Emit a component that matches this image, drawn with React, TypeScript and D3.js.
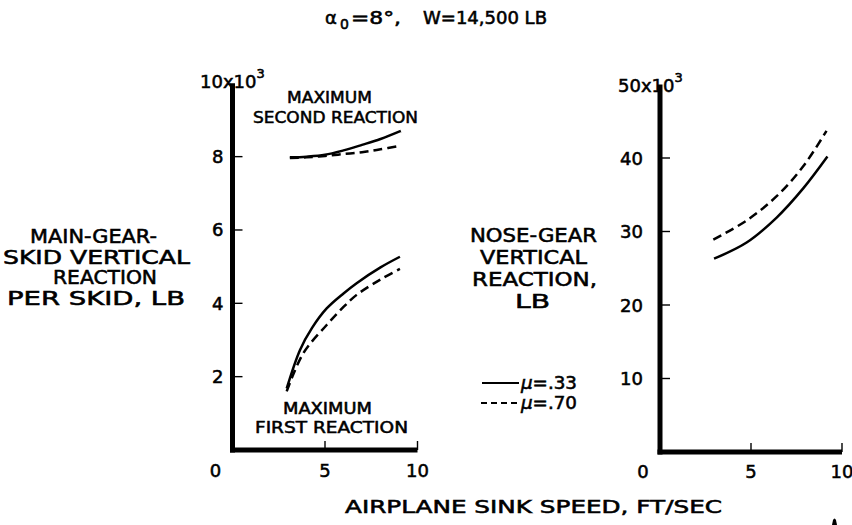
import React from "react";
import * as d3 from "d3";

// ---- data ----
const secondSolidX = [3.1, 4, 5, 6, 7, 8, 9.1];
const secondSolidY = [7.98, 8.0, 8.05, 8.17, 8.32, 8.48, 8.7];
const secondDashX = [3.1, 4, 5, 6, 7, 8, 9.0];
const secondDashY = [7.96, 7.98, 8.02, 8.07, 8.12, 8.2, 8.29];

const firstSolidX = [2.93, 3.65, 4.3, 5.09, 6.0, 6.71, 8.0, 9.05];
const firstSolidY = [1.68, 2.73, 3.33, 3.86, 4.27, 4.55, 4.98, 5.27];
const firstDashX = [2.93, 3.83, 5.09, 6.0, 6.71, 8.0, 9.05];
const firstDashY = [1.6, 2.64, 3.41, 3.9, 4.23, 4.65, 4.94];

const noseSolidX = [2.97, 4.76, 6.41, 7.88, 9.2];
const noseSolidY = [26.3, 28.5, 31.9, 35.9, 40.2];
const noseDashX = [2.93, 4.76, 6.41, 7.88, 9.15];
const noseDashY = [28.9, 31.5, 34.8, 38.9, 43.7];

const xTicks = [0, 5, 10];
const leftYTicks = [2, 4, 6, 8];
const rightYTicks = [10, 20, 30, 40];

const leftYLabel = ["MAIN-GEAR-", "SKID VERTICAL", "REACTION", "PER SKID, LB"];
const rightYLabel = ["NOSE-GEAR", "VERTICAL", "REACTION,", "LB"];
const legendLabels = [".33", ".70"];

const FONT = "'DejaVu Sans', sans-serif";

// layout (positions / widths of label lines)
const leftLabelX = [30, 3, 53, 7];
const leftLabelW = [127, 187, 104, 178];
const rightLabelX = [470, 480, 472, 515];
const rightLabelW = [127, 107, 125, 35];

export default function App() {
  const xL = d3.scaleLinear().domain([0, 10]).range([232.5, 417.5]);
  const yL = d3.scaleLinear().domain([0, 10]).range([450, 83.3]);
  const xR = d3.scaleLinear().domain([0, 10]).range([660, 842]);
  const yR = d3.scaleLinear().domain([0, 50]).range([452, 84.5]);

  const mk = (xs: d3.ScaleLinear<number, number>, ys: d3.ScaleLinear<number, number>, X: number[], Y: number[]) =>
    d3
      .line<number>()
      .x((_, i) => xs(X[i]))
      .y((_, i) => ys(Y[i]))
      .curve(d3.curveCatmullRom.alpha(0.5))(X) as string;

  const dash = "9,5";
  const lw = 2.5;
  const axisW = 5;
  const ts = { fill: "#000", stroke: "#000", strokeWidth: 0.55 } as const;

  return (
    <svg
      width={852}
      height={525}
      style={{ position: "absolute", left: 0, top: 0, background: "#fff" }}
      fontFamily={FONT}
    >
      <rect x={0} y={0} width={852} height={525} fill="#fff" />
      {/* Title */}
      <text x={325} y={24} fontSize={18} {...ts}>α</text>
      <text x={340} y={29} fontSize={14} {...ts}>0</text>
      <text x={351} y={24} fontSize={17} {...ts} textLength={50} lengthAdjust="spacingAndGlyphs">=8°,</text>
      <text x={423} y={24} fontSize={17} {...ts} textLength={124} lengthAdjust="spacingAndGlyphs">W=14,500 LB</text>

      {/* ---- Left chart ---- */}
      <line x1={xL(0)} x2={xL(0)} y1={yL(10)} y2={yL(0) + axisW / 2} stroke="#000" strokeWidth={axisW} />
      <line x1={xL(0) - axisW / 2} x2={xL(10)} y1={yL(0)} y2={yL(0)} stroke="#000" strokeWidth={axisW} />
      {leftYTicks.map((t) => (
        <g key={"ly" + t}>
          <line x1={xL(0)} x2={xL(0) + 10} y1={yL(t)} y2={yL(t)} stroke="#000" strokeWidth={1.4} />
          <text x={xL(0) - 9} y={yL(t) + 6.5} fontSize={18} textAnchor="end" {...ts}>
            {t}
          </text>
        </g>
      ))}
      {xTicks.map((t) => (
        <g key={"lx" + t}>
          {t > 0 && (
            <line x1={xL(t)} x2={xL(t)} y1={yL(0)} y2={yL(0) - 9} stroke="#000" strokeWidth={1.4} />
          )}
          <text x={xL(t) - (t === 0 ? 17 : 0)} y={477} fontSize={18} textAnchor="middle" {...ts}>
            {t}
          </text>
        </g>
      ))}
      <text x={200} y={88} fontSize={18} {...ts}>
        10x10<tspan fontSize={13} dy={-10}>3</tspan>
      </text>
      {leftYLabel.map((s, i) => (
        <text key={s} x={leftLabelX[i]} y={243 + i * 20.5} fontSize={19} textLength={leftLabelW[i]} lengthAdjust="spacingAndGlyphs" {...ts}>
          {s}
        </text>
      ))}
      <text x={287} y={103} fontSize={16.5} textLength={85} lengthAdjust="spacingAndGlyphs" {...ts}>MAXIMUM</text>
      <text x={253} y={123} fontSize={16.5} textLength={165} lengthAdjust="spacingAndGlyphs" {...ts}>SECOND REACTION</text>
      <text x={283} y={414} fontSize={16} textLength={89} lengthAdjust="spacingAndGlyphs" {...ts}>MAXIMUM</text>
      <text x={255} y={433} fontSize={16} textLength={153} lengthAdjust="spacingAndGlyphs" {...ts}>FIRST REACTION</text>

      <path d={mk(xL, yL, secondSolidX, secondSolidY)} fill="none" stroke="#000" strokeWidth={lw} />
      <path d={mk(xL, yL, secondDashX, secondDashY)} fill="none" stroke="#000" strokeWidth={lw} strokeDasharray={dash} />
      <path d={mk(xL, yL, firstSolidX, firstSolidY)} fill="none" stroke="#000" strokeWidth={lw} />
      <path d={mk(xL, yL, firstDashX, firstDashY)} fill="none" stroke="#000" strokeWidth={lw} strokeDasharray={dash} />

      {/* Legend */}
      <line x1={482} x2={519} y1={383} y2={383} stroke="#000" strokeWidth={1.8} />
      <line x1={481} x2={519} y1={403} y2={403} stroke="#000" strokeWidth={1.8} strokeDasharray="6,4" />
      {legendLabels.map((s, i) => (
        <text key={s} x={521} y={389 + i * 20} fontSize={17} textLength={56} lengthAdjust="spacingAndGlyphs" {...ts}>
          <tspan fontStyle="italic">μ</tspan>
          {"=" + s}
        </text>
      ))}

      {/* ---- Right chart ---- */}
      <line x1={xR(0)} x2={xR(0)} y1={yR(50)} y2={yR(0) + axisW / 2} stroke="#000" strokeWidth={axisW} />
      <line x1={xR(0) - axisW / 2} x2={xR(10)} y1={yR(0)} y2={yR(0)} stroke="#000" strokeWidth={axisW} />
      {rightYTicks.map((t) => (
        <g key={"ry" + t}>
          <line x1={xR(0)} x2={xR(0) + 10} y1={yR(t)} y2={yR(t)} stroke="#000" strokeWidth={1.4} />
          <text x={xR(0) - 17} y={yR(t) + 6.5} fontSize={18} textAnchor="end" {...ts}>
            {t}
          </text>
        </g>
      ))}
      {xTicks.map((t) => (
        <g key={"rx" + t}>
          {t > 0 && (
            <line x1={xR(t)} x2={xR(t)} y1={yR(0)} y2={yR(0) - 9} stroke="#000" strokeWidth={1.4} />
          )}
          <text x={xR(t) - (t === 0 ? 17 : 0)} y={478} fontSize={18} textAnchor="middle" {...ts}>
            {t}
          </text>
        </g>
      ))}
      <text x={618} y={92} fontSize={18} {...ts}>
        50x10<tspan fontSize={13} dy={-10}>3</tspan>
      </text>
      {rightYLabel.map((s, i) => (
        <text key={s} x={rightLabelX[i]} y={242 + i * 22} fontSize={19} textLength={rightLabelW[i]} lengthAdjust="spacingAndGlyphs" {...ts}>
          {s}
        </text>
      ))}
      <path d={mk(xR, yR, noseSolidX, noseSolidY)} fill="none" stroke="#000" strokeWidth={lw} />
      <path d={mk(xR, yR, noseDashX, noseDashY)} fill="none" stroke="#000" strokeWidth={lw} strokeDasharray={dash} />

      {/* X axis title */}
      <text x={345} y={513} fontSize={18} textLength={377} lengthAdjust="spacingAndGlyphs" {...ts}>
        AIRPLANE SINK SPEED, FT/SEC
      </text>

      {/* corner mark */}
      <path d="M832,525 L833,520 Q834.5,517 836,520 L837,525 Z" fill="#000" />
    </svg>
  );
}
